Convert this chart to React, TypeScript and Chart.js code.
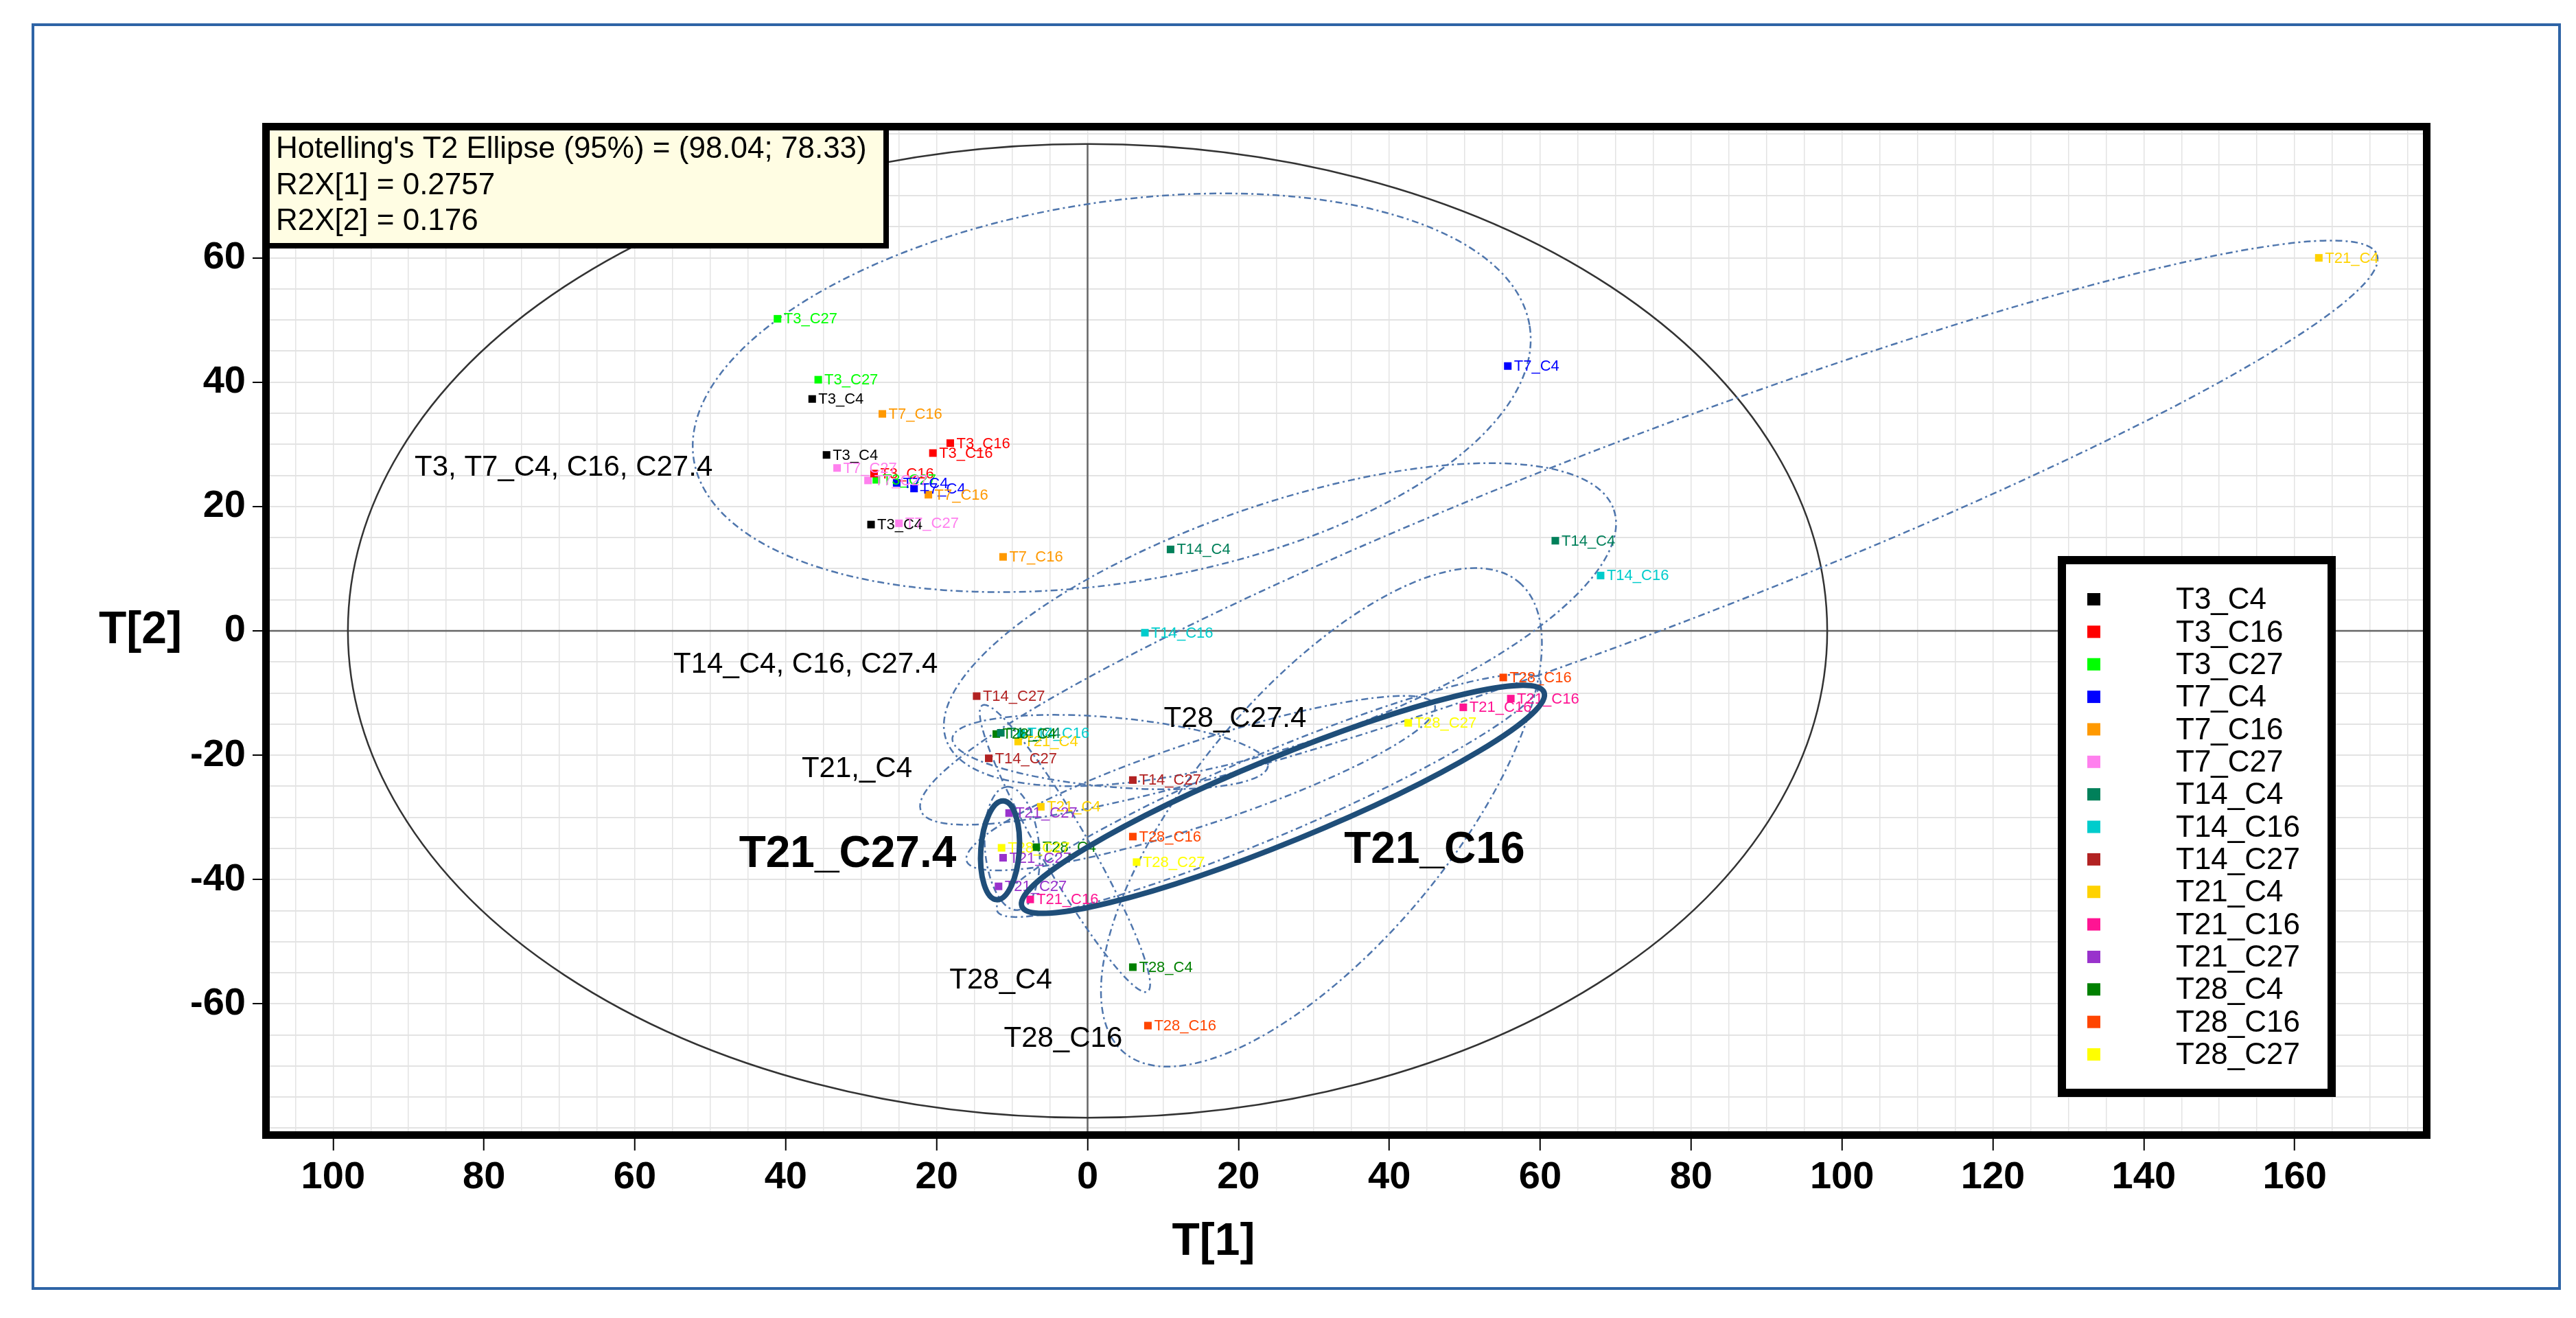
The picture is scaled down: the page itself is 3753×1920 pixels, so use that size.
import React, { useEffect, useRef } from 'react';
import { Chart, registerables } from 'chart.js';

Chart.register(...registerables);

// ---------------- data ----------------
const seriesNames = ['T3_C4', 'T3_C16', 'T3_C27', 'T7_C4', 'T7_C16', 'T7_C27', 'T14_C4', 'T14_C16', 'T14_C27', 'T21_C4', 'T21_C16', 'T21_C27', 'T28_C4', 'T28_C16', 'T28_C27'];
const seriesColors = ['#000000', '#ff0000', '#00ff00', '#0000ff', '#ff9900', '#ff80ee', '#00805a', '#00cccc', '#b22222', '#ffd200', '#ff1493', '#9932cc', '#008000', '#ff4500', '#ffff00'];

const t3c4 = [[-36.5, 37.3], [-34.6, 28.3], [-28.7, 17.1]];
const t3c16 = [[-18.2, 30.2], [-20.5, 28.6], [-28.3, 25.3]];
const t3c27 = [[-41.1, 50.2], [-35.7, 40.4], [-28.0, 24.3]];
const t7c4 = [[55.7, 42.6], [-25.3, 23.8], [-23.0, 22.9]];
const t7c16 = [[-27.2, 34.9], [-21.1, 21.9], [-11.2, 11.9]];
const t7c27 = [[-33.2, 26.2], [-29.1, 24.2], [-25.0, 17.3]];
const t14c4 = [[11.0, 13.1], [62.0, 14.5], [-11.5, -16.4]];
const t14c16 = [[68.0, 8.9], [7.6, -0.3], [-8.8, -16.5]];
const t14c27 = [[-14.7, -10.5], [-13.1, -20.5], [6.0, -24.0]];
const t21c4 = [[163.2, 60.0], [-6.2, -28.3], [-9.2, -17.8]];
const t21c16 = [[49.8, -12.3], [56.1, -10.9], [-7.6, -43.2]];
const t21c27 = [[-10.4, -29.3], [-11.2, -36.5], [-11.8, -41.1]];
const t28c4 = [[-12.1, -16.6], [-6.8, -34.8], [6.0, -54.1]];
const t28c16 = [[55.1, -7.5], [6.0, -33.1], [8.0, -63.5]];
const t28c27 = [[42.5, -14.8], [6.5, -37.2], [-11.4, -34.9]];
const seriesPoints = [t3c4, t3c16, t3c27, t7c4, t7c16, t7c27, t14c4, t14c16, t14c27, t21c4, t21c16, t21c27, t28c4, t28c16, t28c27];

const xRange = [-108.4, 177.0];
const yRange = [-80.5, 80.5];
const tickStep = 5;
const labelStep = 20;
const yLabelLimit = 60;

// Hotelling's T2 ellipse semi-axes (T[1], T[2])
const hotelling = [98.04, 78.33];
const infoLines = ["Hotelling's T2 Ellipse (95%) = (98.04; 78.33)", 'R2X[1] = 0.2757', 'R2X[2] = 0.176'];

// group confidence ellipses: centre (data), semi-axes (T[1] units), rotation (deg)
const groupEllipses = [
  { cx: 3.2, cy: 38.3, a: 56.1, b: 25.2, rot: 9.1 },
  { cx: 25.5, cy: 1.0, a: 46.8, b: 15.9, rot: 19 },
  { cx: 74.4, cy: 15.8, a: 103.3, b: 12.7, rot: 20.9 },
  { cx: 31, cy: -30, a: 40.7, b: 17, rot: 50 },
  { cx: 15, cy: -24.5, a: 32.7, b: 5.5, rot: 18.4 },
  { cx: 24, cy: -26.5, a: 39.1, b: 5.5, rot: 23 },
  { cx: -3, cy: -35, a: 21.9, b: 3.2, rot: 120 },
  { cx: -10, cy: -35, a: 8.2, b: 3.6, rot: 95 },
  { cx: 3, cy: -19.5, a: 21, b: 4.6, rot: -5 },
];
const highlightEllipses = [
  { cx: -11.6, cy: -35.3, a: 6.56, b: 2.55, rot: 86 },
  { cx: 25.9, cy: -27.1, a: 37.4, b: 5.6, rot: 22.3 },
];

const noteTexts = ['T3, T7_C4, C16, C27.4', 'T14_C4, C16, C27.4', 'T28_C27.4', 'T21,_C4', 'T21_C27.4', 'T21_C16', 'T28_C4', 'T28_C16'];
const noteX = [-89.2, -54.9, 10.1, -37.9, -46.2, 34.0, -18.3, -11.1];
const noteY = [26.2, -5.5, -14.2, -22.2, -36.0, -35.4, -56.3, -65.6];
const noteBold = [false, false, false, false, true, true, false, false];

const FONT = '"Liberation Sans", Arial, sans-serif';

function ellipsePath(ctx: CanvasRenderingContext2D, chart: any, e: any) {
  const xs = chart.scales.x;
  const ys = chart.scales.y;
  const cx = xs.getPixelForValue(e.cx);
  const cy = ys.getPixelForValue(e.cy);
  const unit = Math.abs(xs.getPixelForValue(1) - xs.getPixelForValue(0));
  ctx.beginPath();
  ctx.ellipse(cx, cy, e.a * unit, e.b * unit, (-e.rot * Math.PI) / 180, 0, Math.PI * 2);
}

const decorPlugin = {
  id: 'decor',
  beforeDatasetsDraw(chart: any) {
    const ctx: CanvasRenderingContext2D = chart.ctx;
    const ca = chart.chartArea;
    const xs = chart.scales.x;
    const ys = chart.scales.y;
    ctx.save();
    ctx.beginPath();
    ctx.rect(ca.left, ca.top, ca.right - ca.left, ca.bottom - ca.top);
    ctx.clip();
    // zero lines
    ctx.strokeStyle = '#666666';
    ctx.lineWidth = 2.5;
    ctx.beginPath();
    const y0 = ys.getPixelForValue(0);
    ctx.moveTo(ca.left, y0);
    ctx.lineTo(ca.right, y0);
    const x0 = xs.getPixelForValue(0);
    ctx.moveTo(x0, ca.bottom);
    ctx.lineTo(x0, ys.getPixelForValue(hotelling[1]));
    ctx.stroke();
    // Hotelling ellipse
    ctx.strokeStyle = '#333333';
    ctx.lineWidth = 2.5;
    ctx.beginPath();
    ctx.ellipse(
      x0,
      y0,
      Math.abs(xs.getPixelForValue(hotelling[0]) - x0),
      Math.abs(ys.getPixelForValue(hotelling[1]) - y0),
      0,
      0,
      Math.PI * 2
    );
    ctx.stroke();
    // group ellipses
    ctx.strokeStyle = '#4f76ad';
    ctx.lineWidth = 2.5;
    ctx.setLineDash([10, 5, 3, 5]);
    groupEllipses.forEach((e) => {
      ellipsePath(ctx, chart, e);
      ctx.stroke();
    });
    ctx.restore();
  },
  afterDatasetsDraw(chart: any) {
    const ctx: CanvasRenderingContext2D = chart.ctx;
    ctx.save();
    // point labels
    ctx.font = `22px ${FONT}`;
    ctx.textBaseline = 'middle';
    ctx.textAlign = 'left';
    chart.data.datasets.forEach((ds: any, i: number) => {
      const meta = chart.getDatasetMeta(i);
      ctx.fillStyle = ds.backgroundColor;
      meta.data.forEach((el: any) => {
        ctx.fillText(ds.label, el.x + 9, el.y + 1);
      });
    });
    // highlighted ellipses
    ctx.strokeStyle = '#1f4e79';
    ctx.lineWidth = 8;
    highlightEllipses.forEach((e) => {
      ellipsePath(ctx, chart, e);
      ctx.stroke();
    });
    // notes
    const xs = chart.scales.x;
    const ys = chart.scales.y;
    ctx.fillStyle = '#000';
    noteTexts.forEach((t, i) => {
      ctx.font = noteBold[i] ? `bold 64px ${FONT}` : `42px ${FONT}`;
      ctx.fillText(t, xs.getPixelForValue(noteX[i]), ys.getPixelForValue(noteY[i]));
    });
    ctx.restore();
  },
  afterDraw(chart: any) {
    const ctx: CanvasRenderingContext2D = chart.ctx;
    const ca = chart.chartArea;
    ctx.save();
    // frame
    ctx.strokeStyle = '#000';
    ctx.lineWidth = 11;
    ctx.strokeRect(ca.left - 5.5, ca.top - 5.5, ca.right - ca.left + 11, ca.bottom - ca.top + 11);
    // info box
    const bx = ca.left;
    const by = ca.top;
    const bw = 1291 - ca.left;
    const bh = 358 - ca.top;
    ctx.fillStyle = '#fffde3';
    ctx.fillRect(bx, by, bw, bh);
    ctx.lineWidth = 8;
    ctx.beginPath();
    ctx.moveTo(bx + bw, by);
    ctx.lineTo(bx + bw, by + bh);
    ctx.lineTo(bx - 6, by + bh);
    ctx.stroke();
    ctx.fillStyle = '#000';
    ctx.font = `44px ${FONT}`;
    ctx.textAlign = 'left';
    ctx.textBaseline = 'alphabetic';
    infoLines.forEach((l, i) => ctx.fillText(l, bx + 9, 230 + i * 52.5));
    // legend
    const lx = 2998;
    const ly = 810;
    const lw = 405;
    const lh = 788;
    ctx.fillStyle = '#fff';
    ctx.fillRect(lx, ly, lw, lh);
    ctx.lineWidth = 12;
    ctx.strokeRect(lx + 6, ly + 6, lw - 12, lh - 12);
    ctx.font = `44px ${FONT}`;
    ctx.textBaseline = 'middle';
    chart.data.datasets.forEach((ds: any, i: number) => {
      const ry = 873 + i * 47.36;
      ctx.fillStyle = ds.backgroundColor;
      ctx.fillRect(3041, ry - 9, 19, 18);
      ctx.fillStyle = '#000';
      ctx.fillText(ds.label, 3170, ry + 2);
    });
    // axis titles
    ctx.font = `bold 66px ${FONT}`;
    ctx.textBaseline = 'middle';
    ctx.textAlign = 'left';
    ctx.fillText('T[2]', 144, chart.scales.y.getPixelForValue(0));
    ctx.textAlign = 'center';
    ctx.fillText('T[1]', 1768, 1810);
    // outer border
    ctx.strokeStyle = '#2e64a6';
    ctx.lineWidth = 4;
    ctx.strokeRect(48, 36, 3681, 1841);
    ctx.restore();
  },
};

function makeTicks(scale: any) {
  const t: any[] = [];
  for (let v = Math.ceil(scale.min / tickStep) * tickStep; v <= scale.max; v += tickStep) t.push({ value: v });
  scale.ticks = t;
}

const isMajor = (v: number) => Math.round(v) % labelStep === 0;
const isMajorY = (v: number) => isMajor(v) && Math.abs(v) <= yLabelLimit;

export default function App() {
  const ref = useRef<HTMLCanvasElement | null>(null);
  useEffect(() => {
    if (!ref.current) return;
    const datasets = seriesNames.map((name, i) => ({
      label: name,
      data: seriesPoints[i].map((p) => ({ x: p[0], y: p[1] })),
      backgroundColor: seriesColors[i],
      borderColor: seriesColors[i],
      borderWidth: 0,
      pointStyle: 'rect',
      pointRadius: 7.8,
      pointHoverRadius: 7.8,
    }));
    const tickFont = { family: FONT, size: 56, weight: 'bold' as const };
    const chart = new Chart(ref.current, {
      type: 'scatter',
      data: { datasets },
      options: {
        animation: false,
        responsive: false,
        devicePixelRatio: 1,
        layout: { padding: { left: 0, right: 223, top: 190, bottom: 0 } },
        plugins: { legend: { display: false }, tooltip: { enabled: false } },
        scales: {
          x: {
            type: 'linear',
            min: xRange[0],
            max: xRange[1],
            bounds: 'data',
            afterBuildTicks: makeTicks,
            afterFit: (s: any) => {
              s.height = 272;
            },
            border: { display: false },
            grid: {
              color: '#e3e3e3',
              lineWidth: 1.5,
              drawTicks: true,
              tickLength: 28,
              tickWidth: 2,
              tickColor: (c: any) => (c.tick && isMajor(c.tick.value) ? '#000' : 'rgba(0,0,0,0)'),
            },
            ticks: {
              autoSkip: false,
              maxRotation: 0,
              minRotation: 0,
              padding: 6,
              color: '#000',
              font: tickFont,
              callback: (v: any) => (isMajor(Number(v)) ? String(Math.abs(Number(v))) : ''),
            },
          },
          y: {
            type: 'linear',
            min: yRange[0],
            max: yRange[1],
            bounds: 'data',
            afterBuildTicks: makeTicks,
            afterFit: (s: any) => {
              s.width = 393;
            },
            border: { display: false },
            grid: {
              color: '#e3e3e3',
              lineWidth: 2,
              drawTicks: true,
              tickLength: 25,
              tickWidth: 2,
              tickColor: (c: any) => (c.tick && isMajorY(c.tick.value) ? '#000' : 'rgba(0,0,0,0)'),
            },
            ticks: {
              autoSkip: false,
              padding: 10,
              color: '#000',
              font: tickFont,
              callback: (v: any) => (isMajorY(Number(v)) ? String(Number(v)) : ''),
            },
          },
        },
      },
      plugins: [decorPlugin],
    } as any);
    return () => chart.destroy();
  }, []);
  return (
    <div style={{ position: 'absolute', left: 0, top: 0, width: 3753, height: 1920, background: '#fff' }}>
      <canvas ref={ref} width={3753} height={1920} style={{ display: 'block' }} />
    </div>
  );
}
